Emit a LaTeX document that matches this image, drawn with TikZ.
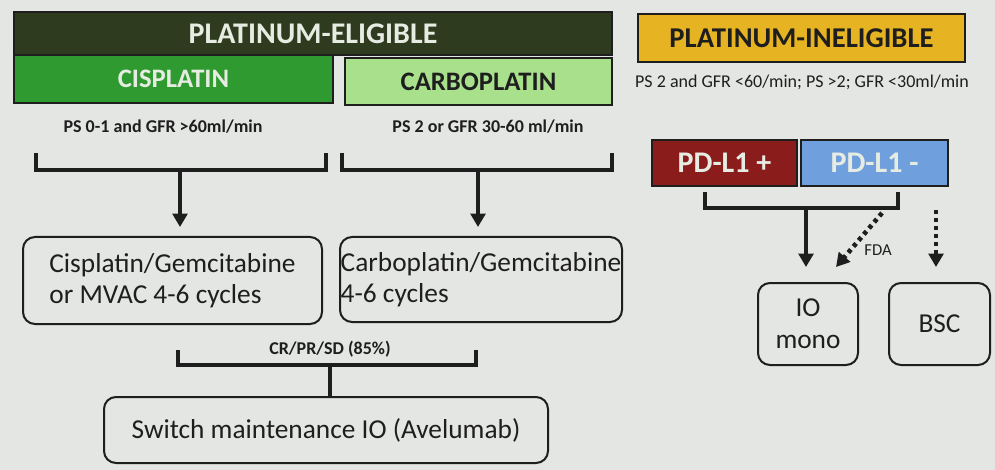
\documentclass[tikz,border=0pt]{standalone}
\usepackage{fontspec}
\setmainfont{Carlito}
\usetikzlibrary{arrows.meta}
\definecolor{bg}{HTML}{E4E6E3}
\definecolor{darkolive}{HTML}{2E3B1F}
\definecolor{cisgreen}{HTML}{2F9A2F}
\definecolor{carbogreen}{HTML}{A8E08C}
\definecolor{gold}{HTML}{E6B422}
\definecolor{pdred}{HTML}{8A1C1C}
\definecolor{pdblue}{HTML}{6F9FDC}
\definecolor{ink}{HTML}{1E1E1E}
\definecolor{lighttext}{HTML}{E6ECE2}
\begin{document}
\begin{tikzpicture}[x=0.75pt,y=-0.75pt,
  hdr/.style={draw=ink, line width=1.2pt, inner sep=0pt, font=\bfseries\fontsize{22.5}{26}\selectfont},
  subhdr/.style={hdr, font=\bfseries\fontsize{20}{24}\selectfont},
  rbox/.style={draw=ink, line width=1.5pt, rounded corners=9pt, inner sep=0pt, align=center, text=ink, font=\fontsize{20.5}{23}\selectfont},
  small/.style={text=ink, font=\fontsize{13.5}{16}\selectfont, inner sep=0pt},
  brk/.style={draw=ink, line width=3pt},
  arr/.style={draw=ink, line width=3pt, -{Triangle[width=11pt,length=10pt]}},
  dotarr/.style={draw=ink, line width=3.5pt, dash pattern=on 3pt off 3pt, -{Triangle[width=11pt,length=10pt]}}
]
\fill[bg] (0,0) rectangle (995,470);
\useasboundingbox (0,0) rectangle (995,470);

% left headers
\node[hdr, fill=darkolive, text=lighttext, minimum width=598*0.75pt, minimum height=43*0.75pt] (elig) at (313,33.5) {PLATINUM-ELIGIBLE};
\node[subhdr, fill=cisgreen, text=lighttext, minimum width=319*0.75pt, minimum height=48*0.75pt] (cis) at (173.5,79) {CISPLATIN};
\node[subhdr, fill=carbogreen, text=ink, minimum width=267*0.75pt, minimum height=47*0.75pt] (carbo) at (478.5,81.5) {CARBOPLATIN};
\node[small, font=\bfseries\fontsize{13.5}{16}\selectfont] (ps1) at (163,127) {PS 0-1 and GFR >60ml/min};
\node[small, font=\bfseries\fontsize{13.5}{16}\selectfont] (ps2) at (488,127) {PS 2 or GFR 30-60 ml/min};

% right headers
\node[hdr, font=\bfseries\fontsize{21.5}{25}\selectfont, fill=gold, text=ink, minimum width=327*0.75pt, minimum height=48*0.75pt] (inelig) at (801.5,38) {PLATINUM-INELIGIBLE};
\node[small] (ps3) at (802,82) {PS 2 and GFR <60/min; PS >2; GFR <30ml/min};
\node[hdr, fill=pdred, text=lighttext, minimum width=145*0.75pt, minimum height=46*0.75pt] (pdp) at (724.5,163) {PD-L1 +};
\node[hdr, fill=pdblue, text=lighttext, minimum width=147*0.75pt, minimum height=46*0.75pt] (pdm) at (874.5,163) {PD-L1 -};

% treatment boxes
\node[rbox, align=left, minimum width=299*0.75pt, minimum height=87*0.75pt] (cg) at (172.5,280.5) {Cisplatin/Gemcitabine\\or MVAC 4-6 cycles};
\node[rbox, align=left, minimum width=282*0.75pt, minimum height=85*0.75pt] (kg) at (481,279.5) {Carboplatin/Gemcitabine\\4-6 cycles};
\node[rbox, minimum width=444*0.75pt, minimum height=66*0.75pt] (sw) at (326,430) {Switch maintenance IO (Avelumab)};
\node[rbox, minimum width=100*0.75pt, minimum height=82*0.75pt, font=\fontsize{20.5}{24}\selectfont] (io) at (808,324) {IO\\mono};
\node[rbox, minimum width=101*0.75pt, minimum height=82*0.75pt] (bsc) at (939.5,324) {BSC};

% bracket 1
\coordinate (b1a) at (36,153); \coordinate (b1b) at (326,153); \coordinate (b1c) at (180,170);
\draw[brk] (b1a) |- (b1b |- b1c) -- (b1b);
\draw[arr, shorten >=9*0.75pt] (b1c) -- (b1c |- cg.north);
% bracket 2
\coordinate (b2a) at (342,153); \coordinate (b2b) at (612,153); \coordinate (b2c) at (478,170);
\draw[brk] (b2a) |- (b2b |- b2c) -- (b2b);
\draw[arr, shorten >=9*0.75pt] (b2c) -- (b2c |- kg.north);
% bracket 3
\coordinate (b3a) at (178,350); \coordinate (b3b) at (476,350); \coordinate (b3c) at (330,365);
\draw[brk] (b3a) |- (b3b |- b3c) -- (b3b);
\draw[brk] (b3c) -- (b3c |- sw.north);
\node[small, font=\bfseries\fontsize{13.5}{16}\selectfont] (resp) at (330,349) {CR/PR/SD (85\%)};
% bracket 4
\coordinate (b4a) at (705,192); \coordinate (b4b) at (898,192); \coordinate (b4c) at (806,208);
\draw[brk] (b4a) |- (b4b |- b4c) -- (b4b);
\draw[arr, shorten >=15*0.75pt] (b4c) -- (b4c |- io.north);
% dotted arrows
\coordinate (fs) at (882,213); \coordinate (fe) at (836,267);
\draw[dotarr] (fs) -- (fe);
\node[small, font=\fontsize{12.5}{15}\selectfont] (fda) at (878,250) {FDA};
\coordinate (bs) at (936,210);
\draw[dotarr, shorten >=15*0.75pt] (bs) -- (bs |- bsc.north);
\end{tikzpicture}
\end{document}
